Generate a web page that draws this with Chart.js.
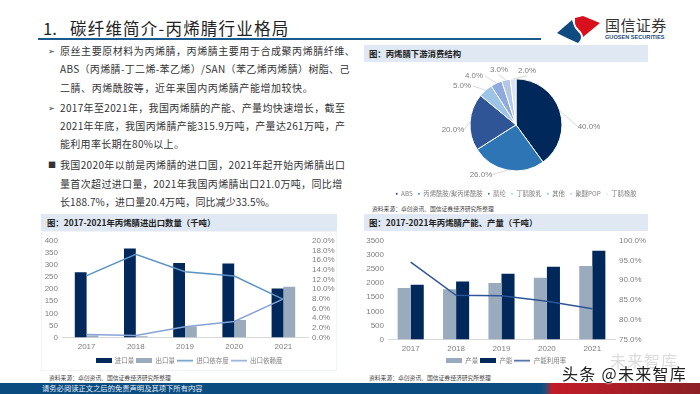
<!DOCTYPE html>
<html>
<head>
<meta charset="utf-8">
<script src="https://cdn.jsdelivr.net/npm/chart.js@4/dist/chart.umd.min.js"></script>
<style>
html,body{margin:0;padding:0;background:#fff;}
body{width:700px;height:394px;overflow:hidden;position:relative;font-family:"Noto Sans CJK SC",sans-serif;color:#333;}
.t{position:absolute;white-space:nowrap;line-height:1;}
.bar{position:absolute;background:#dfe8f3;}
.panel{position:absolute;border:1px solid #f0f3f7;box-sizing:border-box;}
canvas{position:absolute;}
.head{font-size:8.4px;font-weight:700;color:#222;}
.src{font-size:5.8px;color:#444;}
.body{font-size:10px;color:#333;}
</style>
</head>
<body>
<div class="t" style="left:43px;top:20px;font-size:16.5px;color:#222;">1.</div>
<div class="t" style="left:70px;top:20px;font-size:16.5px;letter-spacing:1.2px;color:#222;">碳纤维简介-丙烯腈行业格局</div>
<div style="position:absolute;left:38px;top:38px;width:503px;height:2px;background:#1b5a8c;"></div>

<svg style="position:absolute;left:0;top:0;" width="700" height="60">
  <path d="M557 33 L572 20 L574 26 C576 31 581 33 581 37 C581 39 580 41 578 43 L567 38 Z" fill="#0f4a80"/>
  <path d="M575 18 L583 16 L600 23 L583 37 C583 31 575 28 575 23 Z" fill="#d8101e"/>
</svg>
<div class="t" style="left:605px;top:17px;font-size:15px;letter-spacing:.4px;color:#333;">国信证券</div>
<div class="t" style="left:605px;top:35px;font-size:5.6px;font-weight:700;font-family:'Liberation Sans';color:#1b4a78;">GUOSEN SECURITIES</div>

<div id="copy"></div>

<div class="bar" style="left:364px;top:45px;width:284px;height:17px;"></div>
<div class="t head" style="left:369px;top:49px;">图：丙烯腈下游消费结构</div>
<div class="t src" style="left:372px;top:206px;">资料来源：卓创资讯、国信证券经济研究所整理</div>

<div class="bar" style="left:41px;top:214px;width:296px;height:17px;"></div>
<div class="t head" style="left:47px;top:218px;">图：2017-2021年丙烯腈进出口数量（千吨）</div>
<div class="panel" style="left:41px;top:231px;width:296px;height:140px;"></div>
<div class="t src" style="left:49px;top:375px;">资料来源：卓创资讯、国信证券经济研究所整理</div>

<div class="bar" style="left:364px;top:214px;width:284px;height:17px;"></div>
<div class="t head" style="left:369px;top:218px;">图：2017-2021年丙烯腈产能、产量（千吨）</div>
<div class="t src" style="left:369px;top:375px;">资料来源：卓创资讯、国信证券经济研究所整理</div>

<canvas id="pie" width="280" height="146" style="left:376px;top:62px;"></canvas>
<canvas id="trade" width="296" height="142" style="left:41px;top:232px;"></canvas>
<canvas id="cap" width="284" height="142" style="left:364px;top:232px;"></canvas>

<div style="position:absolute;left:0;top:383px;width:700px;height:11px;background:linear-gradient(90deg,#0a4b80 0,#0a4b80 540px,#1d4f7d 545px,#c21c28 552px,#8c2026 700px);"></div>
<div class="t" style="left:42px;top:385px;font-size:7.3px;color:#e8f0f8;">请务必阅读正文之后的免责声明及其项下所有内容</div>
<div class="t" style="left:610px;top:352px;font-size:16px;letter-spacing:1px;color:#dcdcdc;">未来智库</div>
<div class="t" style="left:562px;top:365px;font-size:16px;letter-spacing:1.3px;color:#222;text-shadow:0 0 2px #fff,0 0 2px #fff;">头条 @未来智库</div>

<script>
// text, line middle, letter spacing
var copyLines = [
  ['原丝主要原材料为丙烯腈，丙烯腈主要用于合成聚丙烯腈纤维、', 51, 0.55],
  ['ABS（丙烯腈-丁二烯-苯乙烯）/SAN（苯乙烯丙烯腈）树脂、己', 69, 0.35],
  ['二腈、丙烯酰胺等，近年来国内丙烯腈产能增加较快。', 87.5, 0.55],
  ['2017年至2021年，我国丙烯腈的产能、产量均快速增长，截至', 108, 0.35],
  ['2021年年底，我国丙烯腈产能315.9万吨，产量达261万吨，产', 126, 0.35],
  ['能利用率长期在80%以上。', 144, 0.3],
  ['我国2020年以前是丙烯腈的进口国，2021年起开始丙烯腈出口', 165, 0.35],
  ['量首次超过进口量，2021年我国丙烯腈出口21.0万吨，同比增', 183.5, 0.35],
  ['长188.7%，进口量20.4万吨，同比减少33.5%。', 202, 0.1]
];
var bullets = [['➢', 51], ['➢', 108], ['■', 165]];

var pieLabels = ['ABS', '丙烯酰胺/聚丙烯酰胺', '腈纶', '丁腈胶乳', '其他', '聚醚POP', '丁腈橡胶'];
var pieValues = [40, 26, 20, 5, 4, 3, 2];
var pieColors = ['#01285a', '#2e75b6', '#2f5597', '#9dc3e6', '#8faadc', '#b4c7e7', '#dae3f3'];

var years = ['2017', '2018', '2019', '2020', '2021'];
var importQty = [270, 368, 308, 306, 203];
var exportQty = [8, 5, 45, 72, 210];
var importDep = [12.8, 17.2, 13.6, 12.7, 7.9];
var exportDep = [0.6, 0.4, 2.2, 3.3, 8.0];

var output = [1830, 1780, 2000, 2190, 2610];
var capacity = [1940, 2060, 2330, 2580, 3150];
var utilization = [94.6, 86.2, 86.1, 84.7, 82.8];

var tickColor = '#7f7f7f';
var tickFont = {family: 'Liberation Sans', size: 8};

// label spots around the pie, offset from its centre
var pieLabelSpots = [[73, 2], [-35, 50], [-63, 5], [-54, -39], [-42, -49], [-17, -55], [11, -54]];

var copy = document.getElementById('copy');
copyLines.forEach(function(l){
  var d = document.createElement('div');
  d.className = 't body';
  d.style.left = '60px';
  d.style.top = (l[1] - 5) + 'px';
  d.style.letterSpacing = l[2] + 'px';
  d.textContent = l[0];
  copy.appendChild(d);
});
bullets.forEach(function(b){
  var d = document.createElement('div');
  d.className = 't';
  d.style.left = '48px';
  d.style.top = (b[1] - 4) + 'px';
  d.style.fontSize = '8px';
  d.textContent = b[0];
  copy.appendChild(d);
});

function key(color, w, h){
  var c = document.createElement('canvas');
  c.width = w; c.height = 5;
  var x = c.getContext('2d');
  x.fillStyle = color;
  x.fillRect(0, (5 - h) / 2, w, h);
  return c;
}

function keyedLabels(chart){
  var labels = Chart.defaults.plugins.legend.labels.generateLabels(chart);
  labels.forEach(function(l){
    var ds = chart.data.datasets[l.datasetIndex];
    if (ds.type === 'line') l.pointStyle = key(ds.borderColor, 16, 1.5);
    else l.pointStyle = key(ds.backgroundColor, 16, 5);
  });
  return labels;
}

var pieLeaders = {
  id: 'pieLeaders',
  afterDatasetsDraw: function(chart){
    var ctx = chart.ctx;
    var arcs = chart.getDatasetMeta(0).data;
    ctx.save();
    ctx.font = '8px "Liberation Sans"';
    ctx.textAlign = 'center';
    ctx.textBaseline = 'middle';
    arcs.forEach(function(a, i){
      var mid = (a.startAngle + a.endAngle) / 2;
      var ex = a.x + Math.cos(mid) * a.outerRadius;
      var ey = a.y + Math.sin(mid) * a.outerRadius;
      var lx = a.x + pieLabelSpots[i][0];
      var ly = a.y + pieLabelSpots[i][1];
      var side = lx > a.x ? -1 : 1;
      var tx = Math.abs(lx - a.x) > 25 ? lx + side * 11 : lx;
      var ty = Math.abs(lx - a.x) > 25 ? ly : ly + 5;
      ctx.strokeStyle = '#c8c8c8';
      ctx.lineWidth = 0.7;
      ctx.beginPath();
      ctx.moveTo(ex, ey);
      ctx.lineTo(tx, ty);
      ctx.stroke();
      ctx.fillStyle = tickColor;
      ctx.fillText(pieValues[i].toFixed(1) + '%', lx, ly);
    });
    ctx.restore();
  }
};

new Chart(document.getElementById('pie'), {
  type: 'pie',
  data: {
    labels: pieLabels,
    datasets: [{data: pieValues, backgroundColor: pieColors, borderColor: '#fff', borderWidth: 1}]
  },
  options: {
    responsive: false,
    animation: false,
    radius: 46,
    layout: {padding: {top: 2, bottom: 1}},
    plugins: {
      tooltip: {enabled: false},
      legend: {
        position: 'bottom',
        labels: {
          usePointStyle: true, pointStyle: 'rect', boxWidth: 2.5, boxHeight: 2.5,
          padding: 5, color: tickColor, font: {family: '"Noto Sans CJK SC"', size: 6.3}
        }
      }
    }
  },
  plugins: [pieLeaders]
});

function barAxis(h){
  return {
    grid: {display: false, drawTicks: false},
    border: {color: '#d9d9d9'},
    ticks: {color: tickColor, font: tickFont, padding: 4, maxRotation: 0},
    afterFit: function(s){ s.height = h; }
  };
}

function valueAxis(pos, min, max, step, w, fmt){
  return {
    position: pos, min: min, max: max,
    grid: {display: false, drawTicks: false}, border: {display: false},
    ticks: {stepSize: step, autoSkip: false, color: tickColor, font: tickFont, padding: 4, callback: fmt},
    afterFit: function(s){ s.width = w; }
  };
}

function pct(v){ return v.toFixed(1) + '%'; }
function plain(v){ return v; }

function legendOpts(){
  return {
    position: 'bottom',
    labels: {
      usePointStyle: true, pointStyleWidth: 16, boxHeight: 5, padding: 2,
      color: tickColor, font: {family: '"Noto Sans CJK SC"', size: 6.5},
      generateLabels: keyedLabels,
      sort: function(a, b){ return a.datasetIndex - b.datasetIndex; }
    }
  };
}

new Chart(document.getElementById('trade'), {
  data: {
    labels: years,
    datasets: [
      {type: 'bar', label: '进口量', data: importQty, backgroundColor: '#01285a', yAxisID: 'y', order: 2},
      {type: 'bar', label: '出口量', data: exportQty, backgroundColor: '#9aabbd', yAxisID: 'y', order: 2},
      {type: 'line', label: '进口依存度', data: importDep, borderColor: '#5b93c4', borderWidth: 1.5, pointRadius: 0, tension: 0, yAxisID: 'y1', order: 1},
      {type: 'line', label: '出口依赖度', data: exportDep, borderColor: '#86a3d6', borderWidth: 1.5, pointRadius: 0, tension: 0, yAxisID: 'y1', order: 1}
    ]
  },
  options: {
    responsive: false,
    animation: false,
    categoryPercentage: 0.48,
    barPercentage: 1,
    layout: {padding: {top: 7, bottom: 0}},
    scales: {
      x: barAxis(18),
      y: valueAxis('left', 0, 400, 50, 21, plain),
      y1: valueAxis('right', 0, 20, 2, 29, pct)
    },
    plugins: {tooltip: {enabled: false}, legend: legendOpts()}
  }
});

new Chart(document.getElementById('cap'), {
  data: {
    labels: years,
    datasets: [
      {type: 'bar', label: '产量', data: output, backgroundColor: '#9aabbd', yAxisID: 'y', order: 2},
      {type: 'bar', label: '产能', data: capacity, backgroundColor: '#01285a', yAxisID: 'y', order: 2},
      {type: 'line', label: '产能利用率', data: utilization, borderColor: '#2f5597', borderWidth: 1.5, pointRadius: 0, tension: 0, yAxisID: 'y1', order: 1}
    ]
  },
  options: {
    responsive: false,
    animation: false,
    categoryPercentage: 0.575,
    barPercentage: 1,
    layout: {padding: {top: 7, bottom: 0}},
    scales: {
      x: barAxis(16),
      y: valueAxis('left', 0, 3500, 500, 24, plain),
      y1: valueAxis('right', 75, 100, 5, 33, pct)
    },
    plugins: {tooltip: {enabled: false}, legend: legendOpts()}
  }
});
</script>
</body>
</html>
